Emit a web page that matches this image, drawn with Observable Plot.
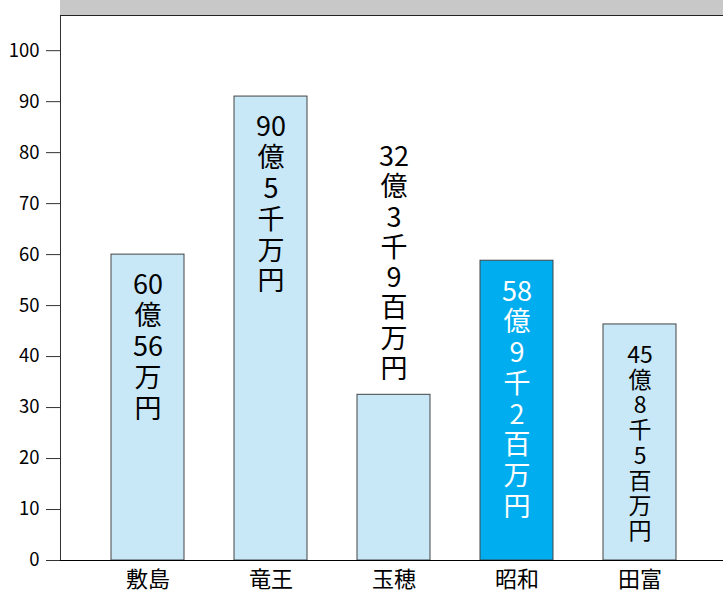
<!DOCTYPE html>
<html><head><meta charset="utf-8">
<script src="https://cdn.jsdelivr.net/npm/d3@7"></script>
<script src="https://cdn.jsdelivr.net/npm/@observablehq/plot@0.6"></script>
<style>
body{margin:0;background:#fff;}
#wrap{position:relative;width:723px;height:597px;}
#band{position:absolute;top:0;left:60px;width:663px;height:16px;background:#c8c8c8;border-bottom:1px solid #222;box-sizing:border-box;}
</style></head>
<body><div id="wrap"><div id="band"></div></div>
<script>
const categories = ["敷島","竜王","玉穂","昭和","田富"];
const values = [60.0, 91.0, 32.5, 58.8, 46.3];
const labels = ["60\n億\n56\n万\n円", "90\n億\n5\n千\n万\n円", "32\n億\n3\n千\n9\n百\n万\n円", "58\n億\n9\n千\n2\n百\n万\n円", "45\n億\n8\n千\n5\n百\n万\n円"];
const highlight = "昭和";
const outside = "玉穂";
const small = "田富";
const yTicks = [0,10,20,30,40,50,60,70,80,90,100];

const data = categories.map((c,i)=>({name:c, value:values[i], label:labels[i]}));
const font = "'Noto Sans CJK JP', 'Noto Sans', sans-serif";

const chart = Plot.plot({
  width: 723, height: 597,
  marginTop: 15, marginBottom: 37, marginLeft: 60, marginRight: 0,
  style: {fontFamily: font, background: "transparent"},
  x: {domain: categories, range: [111, 676], paddingInner: 0.41, paddingOuter: 0},
  y: {domain: [0, 106.9]},
  marks: [
    Plot.barY(data, {x: "name", y: "value", fill: d => d.name === highlight ? "#00aeef" : "#c8e8f8", stroke: "#444", strokeWidth: 1}),
    Plot.text(data.filter(d => d.name !== outside && d.name !== small), {x: "name", y: "value", text: "label", lineAnchor: "top", dy: 18, fontSize: 27, lineHeight: 1.14, fill: d => d.name === highlight ? "#fff" : "#000"}),
    Plot.text(data.filter(d => d.name === small), {x: "name", y: "value", text: "label", lineAnchor: "top", dy: 21, fontSize: 23, lineHeight: 1.09, fill: "#000"}),
    Plot.text(data.filter(d => d.name === outside), {x: "name", y: "value", text: "label", lineAnchor: "bottom", dy: -17, fontSize: 27, lineHeight: 1.12, fill: "#000"}),
    Plot.axisY({ticks: yTicks, tickSize: 14, tickPadding: 7, fontSize: 18.5, label: null, fill: "#000", stroke: "#333"}),
    Plot.axisX({tickSize: 0, tickPadding: 11, fontSize: 22, label: null, fill: "#000"}),
    Plot.frame({anchor: "left", stroke: "#333"}),
    Plot.ruleY([0], {stroke: "#000", strokeWidth: 1.2})
  ]
});
document.getElementById("wrap").appendChild(chart);
</script></body></html>
